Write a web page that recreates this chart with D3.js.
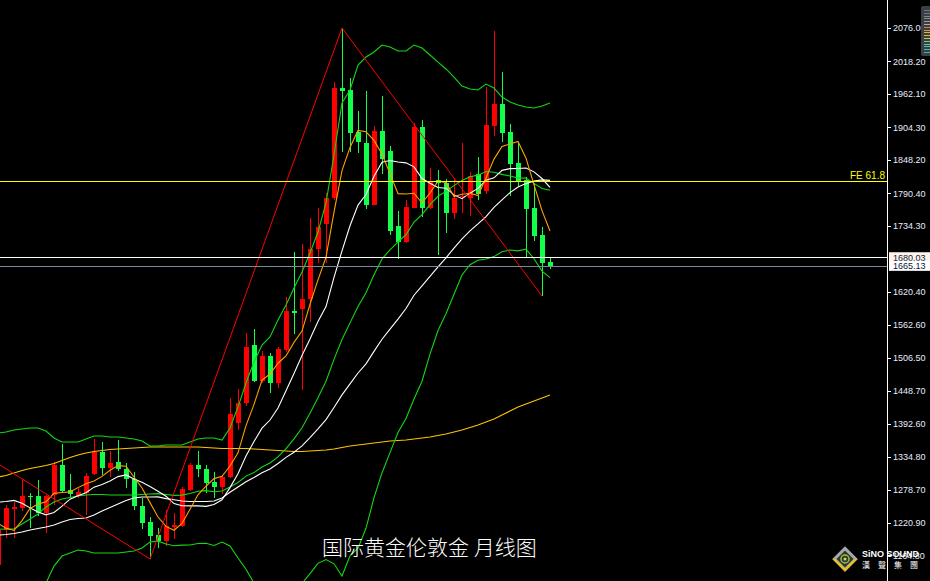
<!DOCTYPE html>
<html><head><meta charset="utf-8">
<script src="https://cdn.jsdelivr.net/npm/d3@7"></script>
<style>html,body{margin:0;padding:0;background:#000;overflow:hidden}svg{display:block}</style>
</head><body>
<svg id="c" width="930" height="581"></svg>
<script>
// ---- DATA (monthly candles, index -1 .. 68) ----
const firstIndex = -1;
const open = [
 1149,1208.8,1245.1,1247.3,1267.5,1267.5,1238.1,1269.2,1321.1,1277.9,
 1267.5,1272.7,1305.5,1343.5,1315.9,1326.2,1314.2,1296.9,1250.2,1222.6,
 1200.1,1189.7,1213.9,1215.7,1277.9,1321.1,1314.2,1291.7,1283.1,1300.3,
 1393.6,1428.2,1528.4,1466.2,1509.4,1462.7,1519.7,1587.1,1590.6,1607.8,
 1694.2,1737.4,1782.3,1972.3,1968.9,1896.3,1877.3,1770.2,1898.1,1863.5,
 1734.0,1706.3,1765.1,1905.0,1765.1,1813.4,1808.2,1756.4,1783.5,1782.3,
 1823.8,1794.4,1906.7,1944.7,1896.3,1842.8,1813.4,1765.1,1718.4,1671.8];
const high = [
 1218,1252.0,1257.1,1296.9,1273.2,1295.2,1269.2,1326.2,1357.3,1305.5,
 1283.1,1307.2,1366.0,1360.8,1345.3,1364.2,1324.5,1309.0,1264.1,1231.2,
 1212.2,1243.3,1238.1,1283.1,1324.5,1345.3,1321.1,1309.0,1303.8,1436.8,
 1452.4,1549.1,1556.0,1518.0,1514.5,1524.9,1611.3,1689.0,1702.9,1747.8,
 1765.1,1791.0,1982.7,2076.0,1989.6,1932.6,1967.2,1906.7,1958.5,1872.2,
 1759.9,1778.9,1911.9,1917.1,1834.2,1830.7,1815.1,1815.1,1877.3,1827.3,
 1853.2,1974.1,2070.8,2000.0,1910.2,1877.3,1818.6,1808.2,1732.2,1678.6];
const low = [
 1147,1195.0,1195.0,1241.6,1212.8,1233.0,1203.6,1252.0,1272.7,1265.8,
 1264.1,1234.7,1303.8,1303.8,1300.3,1310.7,1281.3,1243.3,1210.5,1158.7,
 1177.7,1181.1,1193.2,1213.9,1276.1,1300.3,1272.7,1264.1,1270.9,1298.6,
 1381.5,1423.0,1464.4,1462.7,1445.5,1454.1,1516.3,1547.4,1450.6,1568.1,
 1670.0,1670.0,1778.9,1861.8,1861.8,1860.1,1763.3,1770.2,1823.8,1718.4,
 1677.0,1704.6,1765.1,1749.5,1763.3,1683.9,1721.9,1746.1,1756.4,1751.2,
 1778.9,1789.2,1889.4,1879.1,1785.8,1803.1,1680.4,1708.0,1613.0,1659.6];
const close = [
 1209,1247.3,1248.5,1268.0,1265.8,1238.1,1267.5,1321.1,1276.1,1270.9,
 1274.4,1302.1,1343.5,1315.9,1324.5,1314.2,1296.9,1250.2,1220.9,1198.4,
 1189.7,1215.7,1217.3,1279.6,1321.1,1314.2,1290.0,1283.1,1300.3,1409.2,
 1428.2,1524.9,1466.2,1509.4,1462.7,1521.5,1587.1,1583.6,1607.8,1694.2,
 1732.2,1782.3,1972.3,1967.2,1894.6,1879.1,1770.2,1898.1,1849.7,1725.3,
 1706.3,1766.8,1905.0,1765.1,1811.7,1808.2,1756.4,1782.3,1785.0,1820.3,
 1789.2,1908.4,1944.7,1894.6,1841.1,1811.7,1763.3,1716.7,1670.0,1665.13];
const ma5 = [
 1220,1212,1208,1225,1246,1253.5,1257.6,1272.1,1273.7,1274.7,
 1282.0,1288.9,1293.4,1301.4,1312.1,1320.0,1319.0,1300.3,1281.3,1256.1,
 1231.2,1215.0,1208.4,1220.1,1244.7,1269.6,1284.4,1297.6,1301.7,1319.4,
 1342.2,1389.1,1425.8,1467.6,1478.3,1496.9,1509.4,1532.9,1552.5,1598.8,
 1641.0,1680.0,1757.8,1829.6,1869.7,1899.1,1896.7,1881.8,1858.3,1824.5,
 1789.9,1789.2,1790.6,1773.7,1791.0,1811.4,1809.3,1784.7,1788.7,1790.4,
 1786.6,1817.0,1849.5,1871.4,1875.6,1880.1,1851.1,1805.5,1760.6,1725.4];
const ma10 = [
 1257,1258,1260,1255,1247,1240,1235,1239,1250,1262,
 1267.8,1273.3,1282.8,1287.5,1293.4,1301.0,1304.0,1296.9,1291.4,1284.1,
 1275.6,1267.0,1254.4,1250.7,1250.4,1250.4,1249.7,1253.0,1260.9,1282.0,
 1305.9,1336.8,1361.7,1384.7,1398.8,1419.6,1449.3,1479.3,1510.1,1538.6,
 1569.0,1594.7,1645.3,1691.1,1734.3,1770.0,1788.4,1819.8,1844.0,1847.1,
 1844.5,1843.0,1836.2,1816.0,1807.7,1800.6,1799.3,1787.7,1781.2,1790.7,
 1799.0,1813.2,1817.1,1830.1,1833.0,1833.4,1834.1,1827.5,1816.0,1800.5];
const ma30 = [
 1200,1201,1202.7,1205.3,1208.7,1211.3,1213.9,1217.4,1222.6,1226.9,
 1228.6,1229.5,1234.7,1241.6,1247.6,1253.7,1259.7,1264.1,1265.8,1265.8,
 1266,1263,1261,1259,1258,1258,1258,1259,1264,1274,
 1283.1,1292.3,1299.6,1307.6,1314.2,1323.7,1334.3,1343.1,1354.1,1368.2,
 1383.5,1399.5,1420.5,1442.2,1461.2,1480.0,1495.8,1517.4,1538.3,1555.9,
 1573.1,1591.5,1614.4,1630.6,1646.9,1663.4,1679.0,1695.6,1711.8,1725.5,
 1737.5,1750.3,1766.2,1779.1,1791.7,1801.4,1807.2,1811.7,1813.7,1812.8];
const ma100 = [
 1300.3,1302.9,1307.2,1311.5,1315.0,1317.6,1320.2,1323.6,1328.8,1334.0,
 1338.3,1341.8,1344.3,1346.1,1347.8,1348.7,1349.5,1350.4,1351.3,1352.1,
 1352.1,1352.1,1352.1,1352.1,1352.1,1352.1,1351.3,1350.4,1349.5,1349.5,
 1349.5,1349.5,1348.7,1347.8,1346.9,1346.1,1345.2,1344.3,1344.3,1345.2,
 1346.1,1346.9,1348.7,1351.3,1353.9,1355.6,1357.3,1359.0,1360.8,1362.5,
 1363.4,1364.2,1366.0,1367.7,1369.4,1372.0,1374.6,1378.1,1381.5,1385.8,
 1390.1,1395.3,1400.5,1407.4,1414.3,1421.2,1426.4,1431.5,1436.7,1441.9];
const bbMid = [
 1210,1210.5,1210.5,1219.1,1227.7,1236.4,1248.5,1257.1,1262.3,1264.9,
 1267.5,1269.2,1270.1,1270.1,1269.2,1269.2,1269.2,1269.2,1270.1,1271.0,
 1271.7,1270.1,1268.6,1269.1,1271.9,1275.7,1276.8,1274.9,1276.1,1283.1,
 1290.8,1301.9,1308.0,1317.7,1324.6,1335.0,1349.5,1366.2,1385.5,1410.3,
 1437.4,1465.7,1503.5,1537.9,1566.6,1594.8,1618.8,1649.6,1677.0,1692.8,
 1706.7,1718.8,1740.8,1753.6,1771.0,1785.3,1793.8,1803.7,1812.6,1818.9,
 1821.8,1828.1,1826.7,1823.1,1820.4,1817.0,1816.7,1807.6,1798.6,1795.6];
const bbUpper = [
 1376.4,1378.1,1381.5,1383.2,1384.9,1384.9,1379.8,1367.7,1360.8,1360.8,
 1360.8,1366.0,1371.1,1371.1,1369.4,1369.4,1367.7,1366.0,1362.5,1353.9,
 1353.9,1355.6,1355.6,1355.6,1360.8,1366.0,1367.7,1367.7,1364.2,1384.9,
 1421.2,1462.7,1499.0,1528.3,1542.2,1571.5,1597.5,1626.8,1654.5,1687.3,
 1723.6,1773.7,1856.6,1946.4,1968.9,2012.1,2025.9,2034.5,2046.6,2043.2,
 2036.3,2036.3,2046.6,2041.4,2029.4,2017.2,2005.2,1991.3,1975.8,1970.6,
 1968.9,1979.2,1972.3,1956.8,1948.2,1943.0,1939.5,1937.8,1941.2,1946.4];
const bbLower = [
 1043.6,1042.9,1039.5,1055.0,1070.5,1087.9,1117.2,1146.5,1163.8,1169.0,
 1174.2,1172.4,1169.1,1169.1,1169.0,1169.0,1170.7,1172.4,1177.7,1188.1,
 1189.5,1184.6,1181.6,1182.6,1183.0,1185.4,1185.9,1182.1,1188.0,1181.3,
 1160.4,1141.1,1117.0,1107.1,1107.0,1098.5,1101.5,1105.6,1116.5,1133.3,
 1151.2,1157.7,1150.4,1129.4,1164.3,1177.5,1211.7,1264.7,1307.4,1342.4,
 1377.1,1401.3,1435.0,1465.8,1512.6,1553.4,1582.4,1616.1,1649.4,1667.2,
 1674.7,1677.0,1681.1,1689.4,1692.6,1691.0,1693.9,1677.4,1656.0,1644.8];
// swing lines (index, price)
const swingPoints = [[-7,1375],[18,1158.7],[42,2076],[67,1613]];
const feLevel = 1811.7, feLabel = "FE 61.8";
const levelLine = 1680.03, bidLine = 1665.13;
const tickValues = [2076.00,2018.20,1962.10,1904.30,1848.20,1790.40,1734.30,1620.40,1562.60,1506.50,1448.70,1392.60,1334.80,1278.70,1220.90,1164.80];
const title = "国际黄金伦敦金 月线图";
const logoTop = "SiNO SOUND", logoBottom = "漢聲集團";

// ---- LAYOUT ----
const W = 930, H = 581, axisX = 887;
const svg = d3.select('#c');
svg.append('rect').attr('width',W).attr('height',H).attr('fill','#000');
svg.append('defs').append('clipPath').attr('id','plot').append('rect').attr('x',0).attr('y',0).attr('width',axisX).attr('height',H);

const x = d3.scaleLinear().domain([0,68]).range([6,550]);
const y = d3.scaleLinear().domain([1220.9,2076.0]).range([523,28]);

const RED = '#ff0000', GREEN = '#14ff4c', BAND = '#12d812', ORANGE = '#ffa000', WHITE = '#ffffff', GOLD = '#ffc400', FEY = '#ffff00';

const plot = svg.append('g').attr('clip-path','url(#plot)');

// candles
const candles = open.map((o,k)=>({i:k+firstIndex,o,h:high[k],l:low[k],c:close[k]}));
const cg = plot.append('g').attr('shape-rendering','crispEdges');
cg.selectAll('line.w').data(candles).join('line').attr('class','w')
  .attr('x1',d=>Math.round(x(d.i))+0.5).attr('x2',d=>Math.round(x(d.i))+0.5)
  .attr('y1',d=>y(d.h)).attr('y2',d=>y(d.l))
  .attr('stroke',d=>d.c>=d.o?RED:GREEN).attr('stroke-width',1);
cg.selectAll('rect.b').data(candles).join('rect').attr('class','b')
  .attr('x',d=>Math.round(x(d.i))-2).attr('width',5)
  .attr('y',d=>Math.round(y(Math.max(d.o,d.c))))
  .attr('height',d=>Math.max(1,Math.round(y(Math.min(d.o,d.c)))-Math.round(y(Math.max(d.o,d.c)))))
  .attr('fill',d=>d.c>=d.o?RED:GREEN);

// indicator lines
const line = d3.line().x((d,k)=>x(k+firstIndex)).y(d=>y(d));
const series = [
  {v:ma100,c:GOLD},{v:bbUpper,c:BAND},{v:bbLower,c:BAND},{v:bbMid,c:BAND},
  {v:ma30,c:WHITE},{v:ma10,c:WHITE},{v:ma5,c:ORANGE}
];
plot.selectAll('path.s').data(series).join('path').attr('class','s')
  .attr('d',d=>line(d.v)).attr('fill','none').attr('stroke',d=>d.c).attr('stroke-width',1.1);

// swing lines
plot.append('path').attr('d',d3.line().x(d=>x(d[0])).y(d=>y(d[1]))(swingPoints))
  .attr('fill','none').attr('stroke',RED).attr('stroke-width',1);

// horizontal levels
const hl = plot.append('g').attr('shape-rendering','crispEdges');
hl.append('line').attr('x1',0).attr('x2',axisX).attr('y1',Math.round(y(feLevel))+0.5).attr('y2',Math.round(y(feLevel))+0.5).attr('stroke',FEY);
hl.append('line').attr('x1',0).attr('x2',axisX).attr('y1',Math.round(y(levelLine))+0.5).attr('y2',Math.round(y(levelLine))+0.5).attr('stroke',WHITE);
hl.append('line').attr('x1',0).attr('x2',axisX).attr('y1',Math.round(y(bidLine))+0.5).attr('y2',Math.round(y(bidLine))+0.5).attr('stroke','#7a8a9c');
svg.append('text').attr('x',885).attr('y',Math.round(y(feLevel))-2.5).attr('text-anchor','end')
  .attr('fill',FEY).attr('font-family','Liberation Sans, Arial, sans-serif').attr('font-size',10).text(feLabel);

// axis
svg.append('line').attr('x1',axisX+0.5).attr('x2',axisX+0.5).attr('y1',0).attr('y2',H).attr('stroke','#fff').attr('shape-rendering','crispEdges');
const ax = svg.append('g').attr('shape-rendering','crispEdges');
ax.selectAll('line').data(tickValues).join('line')
  .attr('x1',axisX).attr('x2',axisX+4).attr('y1',d=>Math.round(y(d))+0.5).attr('y2',d=>Math.round(y(d))+0.5).attr('stroke','#fff');
svg.append('g').selectAll('text').data(tickValues).join('text')
  .attr('x',893).attr('y',d=>y(d)+3.3).attr('fill','#e6ecff')
  .attr('font-family','Liberation Sans, Arial, sans-serif').attr('font-size',9).text(d=>d.toFixed(2));

// price boxes
function priceBox(v,bg){
  const yy = y(v);
  svg.append('rect').attr('x',889).attr('y',yy-5).attr('width',41).attr('height',10).attr('fill',bg);
  svg.append('text').attr('x',893).attr('y',yy+3.3).attr('fill','#0a1638')
    .attr('font-family','Liberation Sans, Arial, sans-serif').attr('font-size',9).text(v.toFixed(2));
}
priceBox(levelLine,'#fff3ea');
priceBox(bidLine,'#ffffff');

// top-right widget
const wg = svg.append('g');
wg.append('rect').attr('x',921).attr('y',6).attr('width',12).attr('height',50).attr('rx',2).attr('fill','#3a3e46');
const wcols = ['#777','#777','#888','#888','#999','#aaa','#d08030','#e09030','#e0b030','#d8c030','#c8c840','#90c860','#60c890','#40c8a8','#30c0b0','#30b8b0'];
wg.selectAll('line').data(wcols).join('line').attr('x1',924).attr('x2',930)
  .attr('y1',(d,k)=>10+k*2.8+0.5).attr('y2',(d,k)=>10+k*2.8+0.5).attr('stroke',d=>d).attr('shape-rendering','crispEdges');

// title
svg.append('text').attr('x',322).attr('y',555).attr('fill','#fff').attr('font-weight',300)
  .attr('font-family','Noto Sans CJK SC, sans-serif').attr('font-size',21).text(title);

// logo
const lg = svg.append('g').attr('transform','translate(845,559)');
lg.append('rect').attr('x',-9).attr('y',-9).attr('width',18).attr('height',18).attr('transform','rotate(45)').attr('fill','#a8a8a8');
lg.append('path').attr('d','M-12.7,0 L0,12.7 L12.7,0 L9.5,0 L0,9.5 L-9.5,0 Z').attr('fill','#e8c020');
lg.append('rect').attr('x',-6).attr('y',-6).attr('width',12).attr('height',12).attr('transform','rotate(45)').attr('fill','#333');
lg.append('circle').attr('r',4).attr('fill','none').attr('stroke','#8cc83c').attr('stroke-width',1.5);
lg.append('circle').attr('r',1.5).attr('fill','#c8e040');
svg.append('text').attr('x',862).attr('y',557).attr('fill','#fff').attr('font-weight','bold')
  .attr('font-family','Liberation Sans, Arial, sans-serif').attr('font-size',9).attr('textLength',57).text(logoTop);
svg.append('text').attr('x',862).attr('y',568).attr('fill','#fff').attr('letter-spacing',8)
  .attr('font-family','Noto Sans CJK TC, sans-serif').attr('font-size',8).text(logoBottom);
</script>
</body></html>
